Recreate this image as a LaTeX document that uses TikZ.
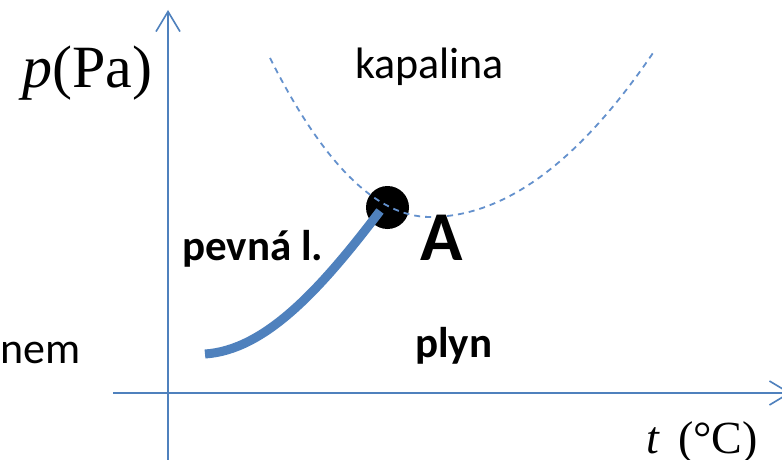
\documentclass[tikz,border=0pt]{standalone}
\usepackage{fontspec}
\setmainfont{Carlito}
\newfontfamily\tms{Liberation Serif}
\usetikzlibrary{arrows.meta}
\definecolor{axblue}{RGB}{79,129,189}
\definecolor{dashblue}{RGB}{100,145,205}
\tikzset{
  axis/.style={draw=axblue, line width=1.6pt, -{Straight Barb[length=20pt,width=24pt,line width=1.6pt]}},
  sublim/.style={draw=axblue, line width=9pt},
  boundary/.style={draw=dashblue, line width=1.8pt, dash pattern=on 6pt off 5pt},
  lbl/.style={inner sep=0pt, anchor=base west, text=black},
}
\begin{document}
\begin{tikzpicture}[x=1pt,y=-1pt]
\clip (0,0) rectangle (782,460);
\fill[white] (0,0) rectangle (782,460);
% axes
\coordinate (ybot) at (168,462);
\coordinate (ytop) at (168,10);
\coordinate (xleft) at (113,393);
\coordinate (xright) at (791,393);
\draw[axis] (ybot) -- (ytop);
\draw[axis] (xleft) -- (xright);
% triple point
\node[circle, fill=black, minimum size=43pt, inner sep=0pt] (A) at (387.5,207.5) {};
% boundaries
\coordinate (l0) at (270,58);
\coordinate (v) at (430,217);
\coordinate (r0) at (655,50);
\draw[boundary] (l0) .. controls (323.3,164) and (376.7,217) .. (v)
  .. controls (505,217) and (580,161.3) .. (r0);
\coordinate (s0) at (205,354);
\coordinate (s1) at (380,211);
\draw[sublim] (s0) .. controls (265,350) and (320,290) .. (s1);
% labels
\node[lbl] (py) at (22,88) {\tms\fontsize{60}{66}\selectfont\itshape p\upshape(Pa)};
\node[lbl] (tx) at (646,453) {\tms\fontsize{46}{50}\selectfont\itshape t\upshape\ \,(\textdegree C)};
\node[lbl] (kap) at (355,79) {\fontsize{44}{48}\selectfont kapalina};
\node[lbl] (pev) at (182,260) {\fontsize{43}{48}\selectfont\bfseries pevná l.};
\node[lbl] (lA) at (420,260) {\fontsize{70}{76}\selectfont\bfseries A};
\node[lbl] (ply) at (415,357) {\fontsize{43}{48}\selectfont\bfseries plyn};
\node[lbl] (nem) at (0,363) {\fontsize{44}{48}\selectfont nem};
\end{tikzpicture}
\end{document}
